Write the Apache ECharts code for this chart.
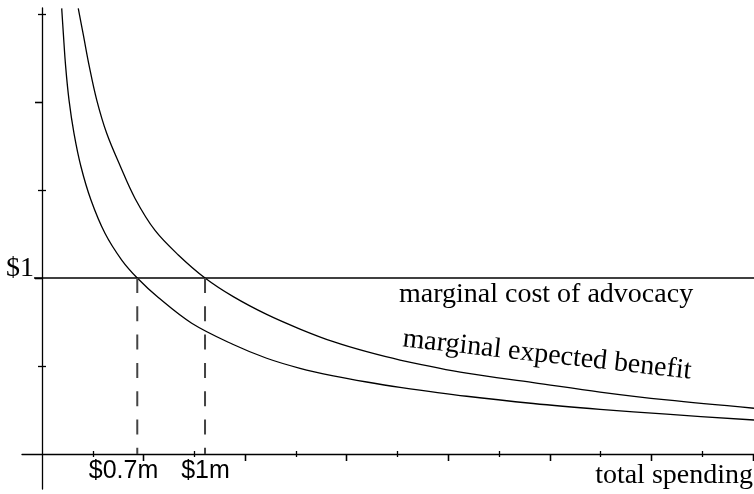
<!DOCTYPE html>
<html><head><meta charset="utf-8">
<script src="https://cdn.jsdelivr.net/npm/echarts@6/dist/echarts.min.js"></script>
<style>html,body{margin:0;padding:0;background:#fff}#c{width:754px;height:494px}</style>
</head><body><div id="c"></div>
<script>
// ---- data ----
const lowerX = [0.194, 0.210, 0.233, 0.266, 0.315, 0.384, 0.482, 0.620, 0.785, 0.938, 1.145, 1.474, 1.883, 2.212, 2.540, 2.868, 3.197, 3.525, 4.181, 4.837, 5.494, 6.150, 7.010];
const lowerY = [2.532, 2.390, 2.201, 2.011, 1.822, 1.632, 1.443, 1.254, 1.102, 1.000, 0.889, 0.743, 0.622, 0.544, 0.487, 0.444, 0.409, 0.379, 0.328, 0.287, 0.254, 0.226, 0.193];
const upperX = [0.357, 0.407, 0.466, 0.539, 0.637, 0.768, 0.916, 1.113, 1.342, 1.605, 1.883, 2.212, 2.540, 2.868, 3.197, 3.525, 4.181, 4.837, 5.494, 6.150, 7.010];
const upperY = [2.532, 2.381, 2.201, 2.011, 1.822, 1.639, 1.452, 1.270, 1.131, 1.000, 0.894, 0.793, 0.710, 0.638, 0.581, 0.534, 0.459, 0.406, 0.352, 0.307, 0.260];
const costX = [-0.079, 7.01];
const costY = [1, 1];
const dropX = [0.938, 1.605];
const dropY = [1, 0];
const xMajorTicks = [1, 2, 3, 4, 5, 6, 7];
const xMinorTicks = [0.5, 1.5, 2.5, 3.5, 4.5, 5.5, 6.5];
const yMajorTicks = [1, 2];
const yMinorTicks = [0.5, 1.5, 2.5];
const xTickLabels = ['$0.7m', '$1m'];
const yTickLabels = ['$1'];
const xAxisTitle = 'total spending';
const costLabel = 'marginal cost of advocacy';
const benefitLabel = 'marginal expected benefit';

// ---- layout ----
const X_MIN = -0.1969, X_MAX = 7.0099, Y_MIN = -0.1989, Y_MAX = 2.5341;
const AX = {color: '#000', width: 1.3};
function xAx(ticks, len, inside, line) {
  return {type: 'value', min: X_MIN, max: X_MAX,
    axisLine: {show: line, onZero: true, lineStyle: AX},
    axisTick: {show: true, customValues: ticks, length: len, inside: inside, lineStyle: AX},
    axisLabel: {show: false}, splitLine: {show: false}};
}
function yAx(ticks, len, inside, line) {
  return {type: 'value', min: Y_MIN, max: Y_MAX,
    axisLine: {show: line, onZero: true, lineStyle: AX},
    axisTick: {show: true, customValues: ticks, length: len, inside: inside, lineStyle: AX},
    axisLabel: {show: false}, splitLine: {show: false}};
}
const zip = (xs, ys) => xs.map((x, i) => [x, ys[i]]);
const curveStyle = {color: '#000', width: 1.3};
const serif = '"Liberation Serif","Times New Roman",serif';
const sans = '"Liberation Sans",Arial,sans-serif';
function txt(text, x, y, font, align, rot) {
  return {type: 'text', x: x, y: y, rotation: rot || 0, silent: true,
    style: {text: text, font: font, fill: '#000', align: align, verticalAlign: 'middle'}};
}

const chart = echarts.init(document.getElementById('c'));
chart.setOption({
  animation: false,
  backgroundColor: '#fff',
  grid: {left: 22, top: 8, width: 732, height: 481, containLabel: false},
  xAxis: [xAx(xMajorTicks, 7, false, true), xAx(xMajorTicks, 7, true, false), xAx(xMinorTicks, 3, false, false), xAx(xMinorTicks, 3, true, false)],
  yAxis: [yAx(yMajorTicks, 7, false, true), yAx(yMajorTicks, 7, true, false), yAx(yMinorTicks, 4, false, false), yAx(yMinorTicks, 4, true, false)],
  series: [
    {type: 'line', name: 'benefit low', data: zip(lowerX, lowerY), showSymbol: false, smooth: 0.35, lineStyle: curveStyle},
    {type: 'line', name: 'benefit high', data: zip(upperX, upperY), showSymbol: false, smooth: 0.35, lineStyle: curveStyle},
    {type: 'line', name: 'cost', data: zip(costX, costY), showSymbol: false, lineStyle: curveStyle},
    ...dropX.map(x => ({type: 'line', data: zip([x, x], dropY), showSymbol: false,
      lineStyle: {color: '#444', width: 2, type: [15, 13.3]}}))
  ],
  graphic: [
    txt(yTickLabels[0], 34, 268.5, '28px ' + serif, 'right'),
    txt(xTickLabels[0], 123.5, 471.3, '25px ' + sans, 'center'),
    txt(xTickLabels[1], 205.5, 471.3, '25px ' + sans, 'center'),
    txt(xAxisTitle, 753, 475.5, '28px ' + serif, 'right'),
    txt(costLabel, 399, 294.9, '28px ' + serif, 'left'),
    txt(benefitLabel, 402.8, 338.9, '28px ' + serif, 'left', -0.112)
  ]
});
</script></body></html>
